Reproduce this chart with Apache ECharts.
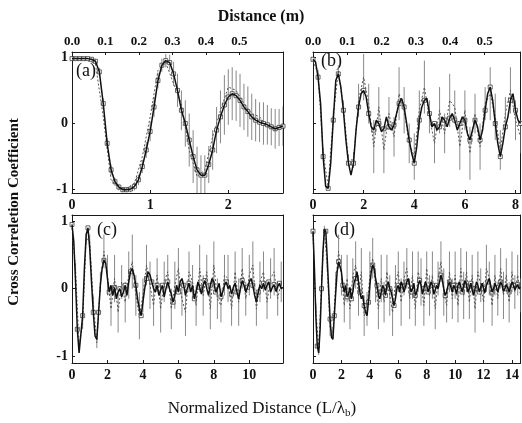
<!DOCTYPE html>
<html><head><meta charset="utf-8">
<script src="https://cdn.jsdelivr.net/npm/echarts@6/dist/echarts.min.js"></script>
<style>html,body{margin:0;padding:0;background:#fff}#c{width:522px;height:423px}</style>
</head><body><div id="c"></div>
<script>
// ---------- DATA ----------
// panel (a): main curve sampled every 0.05 from 0
const stepMainA = 0.05;
const mainA = [0.98,0.98,0.98,0.98,0.98,0.97,0.94,0.78,0.30,-0.30,-0.70,-0.88,-0.96,-1.00,-1.00,-0.99,-0.95,-0.85,-0.65,-0.40,
 -0.12,0.25,0.65,0.88,0.95,0.92,0.75,0.50,0.20,0.00,-0.25,-0.50,-0.70,-0.78,-0.78,-0.62,-0.40,-0.10,0.10,0.28,
 0.40,0.45,0.42,0.35,0.25,0.18,0.10,0.05,0.02,0.00,-0.02,-0.05,-0.08,-0.06,-0.04];
const errA = [0.02,0.02,0.02,0.02,0.02,0.03,0.04,
 0.06,0.08,0.08,0.08,0.06,0.05,0.04,0.04,0.05,0.06,0.08,0.10,0.12,
 0.15,0.15,0.12,0.10,0.10,0.12,0.18,
 0.25,0.30,0.35,0.40,0.40,0.35,0.30,0.30,0.28,0.30,0.35,0.40,0.45,0.42,0.40,0.38,0.40,0.35,0.38,0.35,0.32,0.30,0.32,0.30,0.28,0.30,0.28,0.30];
const stepAltA = 0.1;
const altA = [0.96,0.96,0.95,0.90,0.10,-0.85,-0.98,-0.98,-0.90,-0.50,0.10,0.80,0.92,0.60,0.30,-0.40,-0.80,-0.70,-0.20,0.20,0.55,0.50,0.30,0.15,0.10,-0.05,-0.10,-0.02];

// panel (b): main every 0.1, alt every 0.2
const stepMainB = 0.1;
const mainB = [0.97,0.93,0.70,0.30,-0.50,-0.95,-0.98,-0.60,0.05,0.65,
 0.75,0.55,0.20,-0.25,-0.60,-0.78,-0.60,-0.10,0.25,0.45,
 0.50,0.40,0.15,-0.05,-0.10,0.05,0.00,-0.12,-0.08,0.10,
 -0.05,-0.10,-0.02,0.15,0.30,0.38,0.25,0.00,-0.25,-0.45,
 -0.60,-0.35,0.05,0.25,0.35,0.38,0.15,-0.05,0.00,-0.10,
 -0.05,0.10,0.05,-0.05,0.08,0.15,0.05,-0.10,0.00,0.10,
 0.05,-0.15,-0.25,-0.10,0.05,-0.05,-0.25,-0.10,0.20,0.45,
 0.55,0.35,0.00,-0.30,-0.50,-0.30,-0.05,0.10,0.35,0.45,
 0.20,0.05,0.00];
const stepAltB = 0.2;
const altB = [0.95,0.75,-0.45,-0.95,0.10,0.80,0.25,-0.55,-0.55,0.35,
 0.70,0.30,-0.35,0.25,-0.40,0.15,-0.20,0.45,0.20,-0.30,
 -0.50,0.20,0.55,0.10,-0.30,0.20,-0.15,0.35,0.25,-0.35,
 0.20,-0.45,0.15,-0.35,0.30,0.45,0.10,-0.40,0.15,0.50,
 0.05,-0.20];
const errB = [0.03,0.06,0.08,0.05,0.10,0.08,0.10,0.08,0.12,0.25,
 0.35,0.30,0.40,0.30,0.35,0.25,0.30,0.40,0.35,0.30,
 0.35,0.30,0.40,0.25,0.30,0.35,0.30,0.40,0.25,0.35,
 0.30,0.40,0.30,0.35,0.25,0.40,0.35,0.30,0.25,0.35,
 0.30,0.25];

// panel (c)
const stepMainC = 0.1;
const mainC = [0.95,0.70,0.10,-0.60,-0.95,-0.95,-0.40,0.30,0.80,0.90,
 0.60,0.10,-0.35,-0.70,-0.75,-0.35,0.05,0.30,0.42,0.38,
 0.15,-0.05,0.05,-0.10,0.02,-0.15,-0.05,0.00,-0.12,-0.05,
 0.05,-0.10,0.10,0.25,0.30,0.20,0.05,-0.15,-0.30,-0.40,
 -0.20,0.00,0.15,0.25,0.20,0.10,0.00,-0.05,0.05,-0.10,
 -0.02,0.05,-0.12,0.00,0.10,0.00,-0.08,-0.20,-0.10,0.05,
 -0.05,0.10,0.15,0.05,-0.10,0.00,0.08,-0.05,0.05,-0.15,
 -0.05,0.10,0.02,-0.08,0.05,0.12,0.00,-0.10,0.05,0.15,
 0.10,-0.05,0.00,0.08,-0.12,-0.05,0.05,0.10,0.00,0.05,
 -0.08,0.02,0.08,-0.05,-0.15,0.00,0.12,0.05,-0.05,0.02,
 0.10,0.15,0.05,-0.10,-0.20,-0.05,0.05,0.00,0.08,-0.02,
 0.05,0.10,-0.05,0.02,0.06,-0.04,0.03,0.08,0.00,0.02];
const stepAltC = 0.2;
const altC = [0.90,0.30,-0.85,-0.50,0.75,0.70,-0.20,-0.80,0.10,0.55,
 0.20,-0.30,0.15,-0.35,0.10,-0.20,0.20,0.40,-0.10,-0.40,
 -0.10,0.35,0.05,-0.25,0.20,-0.30,0.10,0.25,-0.30,0.05,
 0.30,-0.15,-0.35,0.25,0.10,-0.25,0.30,-0.10,0.25,-0.30,
 0.35,-0.15,-0.25,0.20,0.15,-0.30,0.25,-0.20,0.30,-0.15,
 0.20,0.35,-0.30,0.10,0.25,-0.20,0.15,0.25,-0.15,0.10];
const errC = [0.05,0.08,0.08,0.10,0.08,0.10,0.10,0.08,0.15,0.25,
 0.30,0.25,0.35,0.30,0.25,0.30,0.35,0.40,0.30,0.35,
 0.25,0.30,0.35,0.30,0.25,0.35,0.30,0.25,0.30,0.35,
 0.30,0.25,0.35,0.30,0.25,0.30,0.35,0.30,0.25,0.30,
 0.35,0.30,0.25,0.30,0.35,0.25,0.30,0.35,0.30,0.25,
 0.30,0.35,0.25,0.30,0.30,0.25,0.30,0.35,0.25,0.30];

// panel (d)
const stepMainD = 0.1;
const mainD = [0.85,0.30,-0.40,-0.85,-0.95,-0.60,0.00,0.55,0.88,0.85,
 0.45,0.00,-0.45,-0.72,-0.75,-0.40,-0.05,0.25,0.40,0.42,
 0.25,0.05,-0.05,0.05,-0.12,-0.08,0.02,-0.15,-0.05,0.10,
 0.15,0.25,0.10,-0.05,-0.15,-0.10,-0.25,-0.35,-0.40,-0.20,
 0.05,0.25,0.35,0.30,0.15,0.05,-0.10,-0.15,-0.05,0.05,
 0.00,-0.10,0.05,0.10,0.00,-0.05,-0.15,-0.25,-0.15,0.00,
 0.05,-0.05,0.10,0.05,-0.05,0.02,0.10,0.15,0.05,-0.05,
 0.00,0.08,-0.10,-0.05,0.05,0.12,0.05,-0.08,0.00,0.10,
 0.05,-0.05,0.02,0.10,0.05,-0.08,-0.02,0.05,0.00,0.10,
 0.20,0.12,0.00,-0.10,-0.05,0.05,0.10,0.02,-0.05,0.05,
 0.00,-0.08,0.05,0.10,0.02,-0.05,0.05,0.12,0.05,-0.05,
 0.00,0.08,-0.02,-0.10,0.00,0.10,0.05,-0.05,0.02,0.08,
 0.00,-0.06,0.05,0.10,0.15,0.05,-0.05,0.00,0.08,0.02,
 -0.05,0.03,0.10,0.05,-0.04,0.00,0.06,0.02,-0.05,0.04,
 0.10,0.05,-0.02,0.03,0.06,0.00,0.02];
const stepAltD = 0.2;
const altD = [0.80,-0.30,-0.90,0.10,0.85,0.35,-0.60,-0.65,0.10,0.55,
 0.20,-0.25,0.15,-0.30,0.20,0.35,-0.10,0.25,-0.40,-0.30,
 0.20,0.45,0.05,-0.30,0.15,-0.20,0.25,-0.10,-0.35,0.10,
 0.25,-0.20,0.15,0.30,-0.15,0.20,-0.30,0.25,0.10,-0.25,
 0.30,-0.10,0.20,-0.30,0.15,0.40,-0.05,-0.25,0.25,-0.15,
 0.20,-0.25,0.30,-0.10,0.25,-0.20,0.20,-0.30,0.25,0.05,
 -0.20,0.30,0.15,-0.25,0.20,-0.15,0.30,-0.10,0.20,-0.20,
 0.25,-0.05,0.20,-0.10];
const errD = [0.05,0.08,0.08,0.10,0.08,0.10,0.10,0.08,0.15,0.25,
 0.30,0.25,0.35,0.30,0.25,0.35,0.30,0.35,0.30,0.25,
 0.35,0.30,0.25,0.30,0.35,0.30,0.25,0.30,0.35,0.25,
 0.30,0.35,0.25,0.30,0.30,0.35,0.25,0.30,0.35,0.30,
 0.25,0.30,0.35,0.30,0.25,0.30,0.35,0.25,0.30,0.30,
 0.35,0.25,0.30,0.35,0.30,0.25,0.30,0.35,0.30,0.25,
 0.30,0.35,0.25,0.30,0.30,0.25,0.30,0.35,0.25,0.30,
 0.30,0.25,0.30,0.25];

// axis extents and tick labels
const xMaxNorm = [2.7, 8.2, 11.9, 14.6];
const xTicksNorm = [[0,1,2],[0,2,4,6,8],[0,2,4,6,8,10],[0,2,4,6,8,10,12,14]];
const xMaxDist = [0.63, 0.605, 0.62, 0.62];
const distTicks = [0.0,0.1,0.2,0.3,0.4,0.5];
const yTicks = [-1,0,1];
const panelLabels = ['(a)','(b)','(c)','(d)'];

// ---------- BUILD ----------
const FONT = '"Liberation Serif","DejaVu Serif",serif';
const grids = [
  {left:72, top:52, width:211, height:141},
  {left:313, top:52, width:208, height:141},
  {left:72, top:215, width:211, height:148},
  {left:313, top:215, width:208, height:148}
];
const yRange = [[-1.05,1.08],[-1.05,1.08],[-1.1,1.09],[-1.1,1.09]];
const lineStyle = {color:'#1a1a1a', width:1};
const xAxis = [], yAxis = [];
for (let p=0;p<4;p++){
  xAxis.push({gridIndex:p, type:'value', position:'bottom', min:0, max:xMaxNorm[p],
    axisLine:{onZero:false, lineStyle}, splitLine:{show:false},
    axisTick:{inside:true, length:3, customValues:xTicksNorm[p], lineStyle},
    axisLabel:{customValues:xTicksNorm[p], color:'#111', fontFamily:FONT, fontWeight:'bold', fontSize:14, margin:5}});
  const showTop = p<2;
  xAxis.push({gridIndex:p, type:'value', position:'top', min:0, max:xMaxDist[p],
    axisLine:{onZero:false, lineStyle}, splitLine:{show:false},
    axisTick:{show:showTop, inside:true, length:3, customValues:distTicks, lineStyle},
    axisLabel:{show:showTop, customValues:distTicks, formatter:v=>v.toFixed(1), color:'#111', fontFamily:FONT, fontWeight:'bold', fontSize:13, margin:4}});
  const showY = (p%2===0);
  yAxis.push({gridIndex:p, type:'value', position:'left', min:yRange[p][0], max:yRange[p][1],
    axisLine:{onZero:false, lineStyle}, splitLine:{show:false},
    axisTick:{show:true, inside:true, length:3, customValues:yTicks, lineStyle},
    axisLabel:{show:showY, customValues:yTicks, color:'#111', fontFamily:FONT, fontWeight:'bold', fontSize:14, margin:4}});
  yAxis.push({gridIndex:p, type:'value', position:'right', min:yRange[p][0], max:yRange[p][1],
    axisLine:{onZero:false, lineStyle}, splitLine:{show:false}, axisTick:{show:false}, axisLabel:{show:false}});
}

function pts(arr, step){ return arr.map((v,i)=>[+(i*step).toFixed(3), v]); }
function withErr(arr, step, err){ return arr.map((v,i)=>[+(i*step).toFixed(3), v, err[i]]); }

const panels = [
  {main:mainA, sm:stepMainA, alt:altA, sa:stepAltA, err:errA, errOnMain:true, mk:1},
  {main:mainB, sm:stepMainB, alt:altB, sa:stepAltB, err:errB, errOnMain:false, mk:2},
  {main:mainC, sm:stepMainC, alt:altC, sa:stepAltC, err:errC, errOnMain:false, mk:3},
  {main:mainD, sm:stepMainD, alt:altD, sa:stepAltD, err:errD, errOnMain:false, mk:3}
];

const series = [];
panels.forEach((P,p)=>{
  const xi = 2*p, yi = 2*p;
  const errData = P.errOnMain ? withErr(P.main, P.sm, P.err) : withErr(P.alt, P.sa, P.err);
  series.push({type:'custom', xAxisIndex:xi, yAxisIndex:yi, clip:true, silent:true,
    data:errData,
    renderItem:(params, api)=>{
      const x=api.value(0), y=api.value(1), e=api.value(2);
      const a=api.coord([x,y-e]), b=api.coord([x,y+e]);
      return {type:'line', shape:{x1:a[0],y1:a[1],x2:b[0],y2:b[1]}, style:{stroke:'#6a6a6a', lineWidth:0.8}};
    }});
  series.push({type:'line', xAxisIndex:xi, yAxisIndex:yi, data:pts(P.alt, P.sa), showSymbol:false, silent:true,
    lineStyle:{color:'#555', width:1, type:[2,2]}, clip:true});
  series.push({type:'line', xAxisIndex:xi, yAxisIndex:yi, data:pts(P.main, P.sm), showSymbol:false, silent:true,
    lineStyle:{color:'#111', width:1.5}, clip:true});
  series.push({type:'scatter', xAxisIndex:xi, yAxisIndex:yi, silent:true,
    data:pts(P.main, P.sm).filter((d,i)=>i%P.mk===0),
    symbol:'rect', symbolSize:4, itemStyle:{color:'#fff', borderColor:'#111', borderWidth:0.8}});
});

const labelPos = [[76,62],[321,52],[97,221],[334,221]];
const graphic = [
  {type:'text', left:'center', top:9, style:{text:'Distance (m)', font:'bold 16px '+FONT, fill:'#111'}},
  {type:'text', x:14, y:212, rotation:Math.PI/2, style:{text:'Cross Correletion Coefficient', font:'bold 15px '+FONT, fill:'#111', align:'center', verticalAlign:'middle'}},
  {type:'text', x:262, y:409, style:{rich:{n:{font:'17px '+FONT, fill:'#111'}, s:{font:'11px '+FONT, fill:'#111', padding:[8,0,0,0]}},
    text:'{n|Normalized Distance (L/λ}{s|b}{n|)}', align:'center', verticalAlign:'middle'}}
];
panelLabels.forEach((t,i)=>graphic.push({type:'text', x:labelPos[i][0], y:labelPos[i][1],
  style:{text:t, font:'18px '+FONT, fill:'#111'}}));

const chart = echarts.init(document.getElementById('c'), null, {renderer:'canvas'});
chart.setOption({animation:false, backgroundColor:'#fff', grid:grids, xAxis, yAxis, series, graphic});
</script></body></html>
